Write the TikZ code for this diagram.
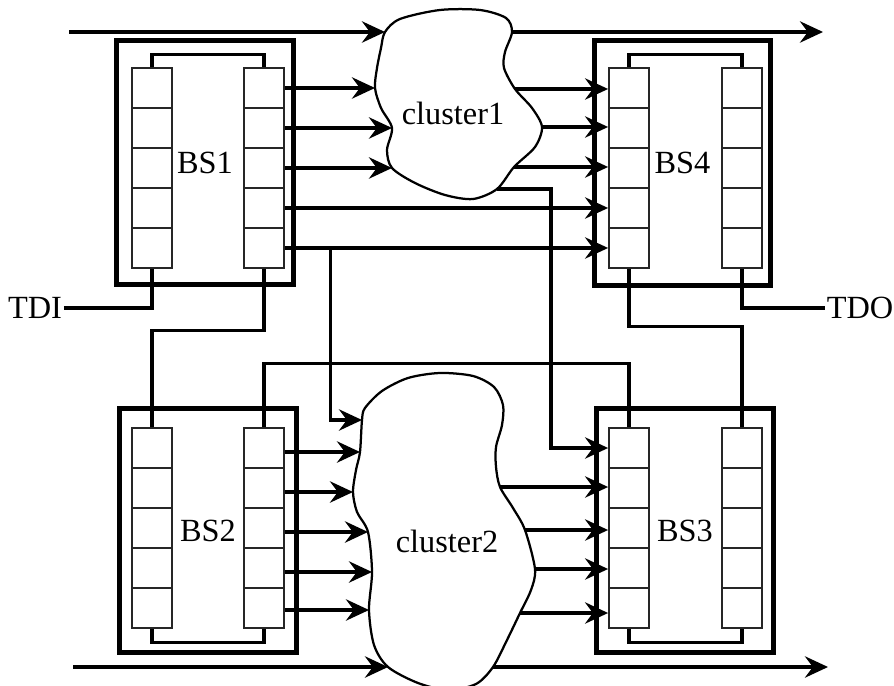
\documentclass[tikz,border=0pt]{standalone}
\usepackage{fontspec}
\setmainfont{Liberation Serif}
\usetikzlibrary{arrows.meta}

\begin{document}
\begin{tikzpicture}[
        x=0.0125cm, y=-0.0125cm,
        font=\fontsize{11.5}{13}\selectfont,
        bsbox/.style={
            rectangle, draw=black, line width=1.8pt,
            minimum width=2.21cm, minimum height=3.06cm,
            inner sep=0pt
        },
        cell/.style={
            rectangle, draw=black!85, line width=0.65pt,
            fill=white, minimum width=0.5cm,
            minimum height=0.5cm, inner sep=0pt
        },
        blob/.style={draw=black, line width=0.8pt, fill=white},
        wire/.style={line width=1.1pt},
        arr/.style={wire, -{Stealth[length=8.2pt, width=7.6pt, inset=2.8pt]}},
        lbl/.style={inner sep=0.5pt}
    ]

    \useasboundingbox (0,0) rectangle (894,686);
    \clip (0,0) rectangle (894,686);

    % Boundary scan modules
    \node[bsbox] (bs1) at (205,162.5) {BS1};
    \node[bsbox] (bs4) at (682.5,163) {BS4};
    \node[bsbox] (bs2) at (208,530.5) {BS2};
    \node[bsbox] (bs3) at (685,530.5) {BS3};

    % Scan cells
    \foreach \i in {1,...,5} {
        \node[cell] (b1l\i) at (152,48+40*\i) {};
        \node[cell] (b1r\i) at (264,48+40*\i) {};
        \node[cell] (b4l\i) at (629,48+40*\i) {};
        \node[cell] (b4r\i) at (742,48+40*\i) {};
        \node[cell] (b2l\i) at (152,408+40*\i) {};
        \node[cell] (b2r\i) at (264,408+40*\i) {};
        \node[cell] (b3l\i) at (629,408+40*\i) {};
        \node[cell] (b3r\i) at (742,408+40*\i) {};
    }

    % Cluster 1
    \coordinate (c1i0) at (385,32);
    \coordinate (c1i1) at (375,88);
    \coordinate (c1i2) at (392,128);
    \coordinate (c1i3) at (392,168);
    \coordinate (c1o0) at (512,32);
    \coordinate (c1o1) at (515,89);
    \coordinate (c1o2) at (542,127);
    \coordinate (c1o3) at (514,167);
    \coordinate (c1o4) at (497,189);
    \draw[blob] plot[smooth cycle] coordinates {
        (c1i0) (400,19) (440,10) (480,10) (506,18) (c1o0) (505,52)
        (504,68) (c1o1) (532,108) (c1o2) (535,147) (c1o3) (c1o4)
        (473,199) (445,195) (415,183) (c1i3) (387,150) (c1i2)
        (381,108) (c1i1) (377,68) (381,48)};
    \node[lbl] (cl1) at (453,113) {cluster1};

    % Cluster 2
    \coordinate (c2i0) at (362,420);
    \coordinate (c2i1) at (360,452);
    \coordinate (c2i2) at (353,492);
    \coordinate (c2i3) at (368,532);
    \coordinate (c2i4) at (372,572);
    \coordinate (c2i5) at (369,610);
    \coordinate (c2i6) at (388,667);
    \coordinate (c2o0) at (493,667);
    \coordinate (c2o1) at (500,487);
    \coordinate (c2o2) at (525,530);
    \coordinate (c2o3) at (535,569);
    \coordinate (c2o4) at (520,613);
    \draw[blob] plot[smooth cycle] coordinates {
        (365,408) (382,391) (408,378) (440,373) (473,376) (494,387)
        (503,405) (502,425) (496,447) (496,467) (c2o1) (513,508)
        (c2o2) (c2o3) (531,590) (c2o4) (507,640) (c2o0) (476,684)
        (448,690) (418,683) (c2i6) (374,645) (c2i5) (c2i4) (c2i3)
        (357,512) (c2i2) (356,470) (c2i1) (c2i0)};
    \node[lbl] (cl2) at (447,541) {cluster2};

    % TDI / TDO
    \node[lbl] (tdi) at (35,308) {TDI};
    \node[lbl] (tdo) at (860,308) {TDO};

    % Scan chain
    \draw[wire] (tdi.east) -| (b1l5.south);
    \draw[wire] (b1l1.north) -- ++(0,-13) -| (b1r1.north);
    \draw[wire] (b1r5.south) -- ++(0,62) -| (b2l1.north);
    \draw[wire] (b2l5.south) -- ++(0,14) -| (b2r5.south);
    \draw[wire] (b2r1.north) -- ++(0,-64) -| (b3l1.north);
    \draw[wire] (b3l5.south) -- ++(0,14) -| (b3r5.south);
    \draw[wire] (b3r1.north) -- ++(0,-101) -| (b4l5.south);
    \draw[wire] (b4l1.north) -- ++(0,-13) -| (b4r1.north);
    \draw[wire] (b4r5.south) |- (tdo.west);

    % Top and bottom lines through the clusters
    \coordinate (topin) at (69,32);
    \coordinate (topout) at (823,32);
    \coordinate (botin) at (73,667);
    \coordinate (botout) at (828,667);
    \draw[arr] (topin) -- (c1i0);
    \draw[arr] (c1o0) -- (topout);
    \draw[arr] (botin) -- (c2i6);
    \draw[arr] (c2o0) -- (botout);

    % BS1 outputs
    \draw[arr] (b1r1.east) -- (c1i1);
    \draw[arr] (b1r2.east) -- (c1i2);
    \draw[arr] (b1r3.east) -- (c1i3);
    \draw[arr] (b1r4.east) -- (b4l4.west);
    \draw[arr] (b1r5.east) -- (b4l5.west);
    \path (b1r5.east) ++(46,0) coordinate (tap);
    \draw[arr] (tap) |- (c2i0);

    % Cluster 1 outputs
    \draw[arr] (c1o1) -- (c1o1 -| b4l1.west);
    \draw[arr] (c1o2) -- (c1o2 -| b4l2.west);
    \draw[arr] (c1o3) -- (c1o3 -| b4l3.west);
    \draw[arr] (c1o4) -- ++(54,0) |- (b3l1.west);

    % BS2 outputs
    \draw[arr] (b2r1.east |- c2i1) -- (c2i1);
    \draw[arr] (b2r2.east |- c2i2) -- (c2i2);
    \draw[arr] (b2r3.east |- c2i3) -- (c2i3);
    \draw[arr] (b2r4.east |- c2i4) -- (c2i4);
    \draw[arr] (b2r5.east |- c2i5) -- (c2i5);

    % Cluster 2 outputs
    \draw[arr] (c2o1) -- (c2o1 -| b3l2.west);
    \draw[arr] (c2o2) -- (c2o2 -| b3l3.west);
    \draw[arr] (c2o3) -- (c2o3 -| b3l4.west);
    \draw[arr] (c2o4) -- (c2o4 -| b3l5.west);

\end{tikzpicture}
\end{document}
